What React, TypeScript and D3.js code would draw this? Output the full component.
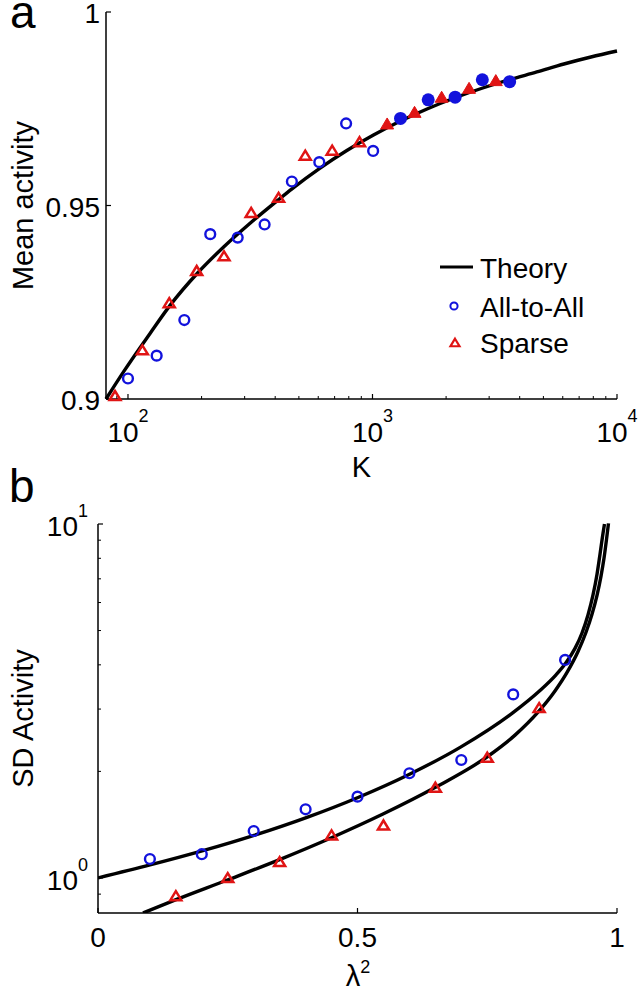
import React from "react";
import * as d3 from "d3";

// ---------- Panel a data ----------
const allToAllK = [100, 131, 170, 217, 281, 362, 468, 606, 780, 1006];
const allToAllMean = [0.9053, 0.9112, 0.9204, 0.9426, 0.9417, 0.9451, 0.9562, 0.9612, 0.9712, 0.9641];
const allToAllFilledK = [1302, 1690, 2178, 2813, 3639];
const allToAllFilledMean = [0.9725, 0.9773, 0.978, 0.9825, 0.982];
const sparseK = [88.5, 114.5, 147.5, 191, 247, 319, 413, 531, 684, 885];
const sparseMean = [0.9009, 0.9127, 0.9249, 0.9332, 0.937, 0.9482, 0.9521, 0.963, 0.9643, 0.9665];
const sparseFilledK = [1148, 1486, 1918, 2483, 3194];
const sparseFilledMean = [0.9712, 0.9742, 0.9781, 0.9804, 0.9824];
const theoryK = [81.3, 96.3, 123.1, 148.6, 191.8, 247.4, 319.2, 411.9, 470, 606.4, 782.4, 1009.5, 1302, 1680, 2189, 2824, 3643, 4700, 6064, 7824, 10000];
const theoryMean = [0.9, 0.90721, 0.91695, 0.92419, 0.93243, 0.93941, 0.94568, 0.95147, 0.95437, 0.95953, 0.96413, 0.96819, 0.97181, 0.97501, 0.97791, 0.98036, 0.98253, 0.9845, 0.98656, 0.98837, 0.98992];
const aYTicks = [0.9, 0.95, 1];
const aYTickLabels = ["0.9", "0.95", "1"];
const aXMajor = [100, 1000, 10000];
const aXMajorExp = ["2", "3", "4"];
const legendLabels = ["Theory", "All-to-All", "Sparse"];

// ---------- Panel b data ----------
const allToAllLambda2 = [0.1, 0.2, 0.3, 0.4, 0.5, 0.6, 0.7, 0.8, 0.9];
const allToAllSD = [1.131, 1.167, 1.357, 1.563, 1.697, 1.976, 2.154, 3.3, 4.13];
const sparseLambda2 = [0.15, 0.25, 0.35, 0.45, 0.55, 0.65, 0.75, 0.85];
const sparseSD = [0.891, 1.002, 1.112, 1.323, 1.411, 1.804, 2.193, 3.03];
const theoryUpperLambda2 = [0, 0.1002, 0.2023, 0.3006, 0.4027, 0.501, 0.5973, 0.6994, 0.7996, 0.8516, 0.8825, 0.9017, 0.9191, 0.9326, 0.9441, 0.9538, 0.9615, 0.9672, 0.973, 0.9759];
const theoryUpperSD = [1.0, 1.088, 1.194, 1.319, 1.483, 1.688, 1.954, 2.346, 2.932, 3.386, 3.75, 4.055, 4.453, 4.921, 5.534, 6.302, 7.215, 8.206, 9.406, 10.0];
const theoryLowerLambda2 = [0.0867, 0.1503, 0.2505, 0.3487, 0.4509, 0.5491, 0.6493, 0.7514, 0.8035, 0.8478, 0.8805, 0.9037, 0.9249, 0.9403, 0.9518, 0.9615, 0.9692, 0.975, 0.9798, 0.9836];
const theoryLowerSD = [0.796, 0.868, 0.988, 1.125, 1.301, 1.515, 1.8, 2.207, 2.532, 2.94, 3.375, 3.808, 4.364, 4.945, 5.559, 6.29, 7.126, 8.01, 9.047, 10.04];
const bXTicks = [0, 0.5, 1];
const bXTickLabels = ["0", "0.5", "1"];
const bYMajor = [1, 10];
const bYMajorExp = ["0", "1"];

const FONT = "'Liberation Sans', Arial, Helvetica, sans-serif";
const BLUE = "#1212dc";
const RED = "#e01414";

function tri(cx: number, cy: number, w: number, h: number) {
  return `M${cx},${cy - h / 2}L${cx + w / 2},${cy + h / 2}L${cx - w / 2},${cy + h / 2}Z`;
}

export default function App() {
  // Panel a scales
  const xA = d3.scaleLog().domain([81.3, 10000]).range([106, 617]);
  const yA = d3.scaleLinear().domain([0.9, 1]).range([399, 12]);
  // Panel b scales
  const xB = d3.scaleLinear().domain([0, 1]).range([98, 617]);
  const yB = d3.scaleLog().domain([0.796, 10]).range([913, 524]);

  const lineA = d3
    .line<number>()
    .x((_, i) => xA(theoryK[i]))
    .y((d) => yA(d))
    .curve(d3.curveMonotoneX);
  const lineUpper = d3
    .line<number>()
    .x((_, i) => xB(theoryUpperLambda2[i]))
    .y((d) => yB(d))
    .curve(d3.curveMonotoneX);
  const lineLower = d3
    .line<number>()
    .x((_, i) => xB(theoryLowerLambda2[i]))
    .y((d) => yB(d))
    .curve(d3.curveMonotoneX);

  const aMinor = xA.ticks().filter((t) => !aXMajor.includes(t));
  const bMinor = yB.ticks().filter((t) => t >= 0.85 && !bYMajor.includes(t));

  const axA0 = yA.range()[0];
  const axB0 = yB.range()[0];

  return (
    <svg
      width={639}
      height={996}
      style={{ position: "absolute", left: 0, top: 0, background: "#fff" }}
      fontFamily={FONT}
    >
      <rect x={0} y={0} width={639} height={996} fill="#fff" />
      {/* ===== Panel a ===== */}
      <text x={10} y={28} fontSize={46}>a</text>
      <line x1={xA.range()[0]} x2={xA.range()[1]} y1={axA0} y2={axA0} stroke="#000" strokeWidth={1.5} />
      <line x1={xA.range()[0]} x2={xA.range()[0]} y1={yA.range()[0]} y2={yA.range()[1]} stroke="#000" strokeWidth={1.5} />
      {aMinor.map((t) => (
        <line key={"am" + t} x1={xA(t)} x2={xA(t)} y1={axA0} y2={axA0 - 3} stroke="#000" strokeWidth={1} />
      ))}
      {aXMajor.map((t, i) => (
        <g key={"aM" + t}>
          <line x1={xA(t)} x2={xA(t)} y1={axA0} y2={axA0 - 5} stroke="#000" strokeWidth={1.2} />
          <text x={xA(t)} y={442} fontSize={28} textAnchor="middle">
            10<tspan fontSize={18} dy={-20}>{aXMajorExp[i]}</tspan>
          </text>
        </g>
      ))}
      {aYTicks.map((t, i) => (
        <g key={"ay" + t}>
          <line x1={106} x2={111} y1={yA(t)} y2={yA(t)} stroke="#000" strokeWidth={1.2} />
          <text x={100} y={yA(t) + 11} fontSize={28} textAnchor="end">{aYTickLabels[i]}</text>
        </g>
      ))}
      <text x={361.5} y={477} fontSize={29} textAnchor="middle">K</text>
      <text transform={`translate(33,${(yA.range()[0] + yA.range()[1]) / 2}) rotate(-90)`} fontSize={29} textAnchor="middle">
        Mean activity
      </text>
      <path d={lineA(theoryMean) || ""} fill="none" stroke="#000" strokeWidth={3.4} />
      {sparseK.map((k, i) => (
        <path key={"st" + i} d={tri(xA(k), yA(sparseMean[i]), 11, 9)} fill="none" stroke={RED} strokeWidth={2.5} />
      ))}
      {allToAllK.map((k, i) => (
        <circle key={"ac" + i} cx={xA(k)} cy={yA(allToAllMean[i])} r={4.9} fill="none" stroke={BLUE} strokeWidth={2.4} />
      ))}
      {sparseFilledK.map((k, i) => (
        <path key={"sf" + i} d={tri(xA(k), yA(sparseFilledMean[i]), 13, 11)} fill={RED} stroke={RED} strokeWidth={1} />
      ))}
      {allToAllFilledK.map((k, i) => (
        <circle key={"af" + i} cx={xA(k)} cy={yA(allToAllFilledMean[i])} r={6.5} fill={BLUE} />
      ))}
      {/* legend */}
      <line x1={440} x2={473} y1={267} y2={267} stroke="#000" strokeWidth={3.2} />
      <circle cx={454} cy={306} r={3.6} fill="none" stroke={BLUE} strokeWidth={2} />
      <path d={tri(455, 342.5, 9, 7.5)} fill="none" stroke={RED} strokeWidth={2.2} />
      {legendLabels.map((l, i) => (
        <text key={l} x={480} y={[278, 316.7, 353.3][i]} fontSize={28}>{l}</text>
      ))}

      {/* ===== Panel b ===== */}
      <text x={9} y={502} fontSize={46}>b</text>
      <defs>
        <clipPath id="clipB">
          <rect x={98} y={520} width={530} height={393} />
        </clipPath>
      </defs>
      <line x1={xB.range()[0]} x2={xB.range()[1]} y1={axB0} y2={axB0} stroke="#000" strokeWidth={1.5} />
      <line x1={98} x2={98} y1={yB.range()[0]} y2={yB.range()[1]} stroke="#000" strokeWidth={1.5} />
      {bXTicks.map((t, i) => (
        <g key={"bx" + t}>
          <line x1={xB(t)} x2={xB(t)} y1={axB0} y2={axB0 - 5} stroke="#000" strokeWidth={1.2} />
          <text x={xB(t)} y={947} fontSize={28} textAnchor="middle">{bXTickLabels[i]}</text>
        </g>
      ))}
      {bMinor.map((t) => (
        <line key={"bm" + t} x1={98} x2={101} y1={yB(t)} y2={yB(t)} stroke="#000" strokeWidth={1} />
      ))}
      {bYMajor.map((t, i) => (
        <g key={"bM" + t}>
          <line x1={98} x2={103} y1={yB(t)} y2={yB(t)} stroke="#000" strokeWidth={1.2} />
          <text x={88} y={yB(t) + 12} fontSize={28} textAnchor="end">
            10<tspan fontSize={18} dy={-19}>{bYMajorExp[i]}</tspan>
          </text>
        </g>
      ))}
      <text x={358} y={986} fontSize={29} textAnchor="middle">
        λ<tspan fontSize={18} dy={-13}>2</tspan>
      </text>
      <text transform={`translate(33,${(yB.range()[0] + yB.range()[1]) / 2}) rotate(-90)`} fontSize={29} textAnchor="middle">
        SD Activity
      </text>
      <g clipPath="url(#clipB)">
        <path d={lineUpper(theoryUpperSD) || ""} fill="none" stroke="#000" strokeWidth={3.4} />
        <path d={lineLower(theoryLowerSD) || ""} fill="none" stroke="#000" strokeWidth={3.4} />
      </g>
      {allToAllLambda2.map((l, i) => (
        <circle key={"bc" + i} cx={xB(l)} cy={yB(allToAllSD[i])} r={4.9} fill="none" stroke={BLUE} strokeWidth={2.4} />
      ))}
      {sparseLambda2.map((l, i) => (
        <path key={"bt" + i} d={tri(xB(l), yB(sparseSD[i]), 11, 9)} fill="none" stroke={RED} strokeWidth={2.5} />
      ))}
    </svg>
  );
}
